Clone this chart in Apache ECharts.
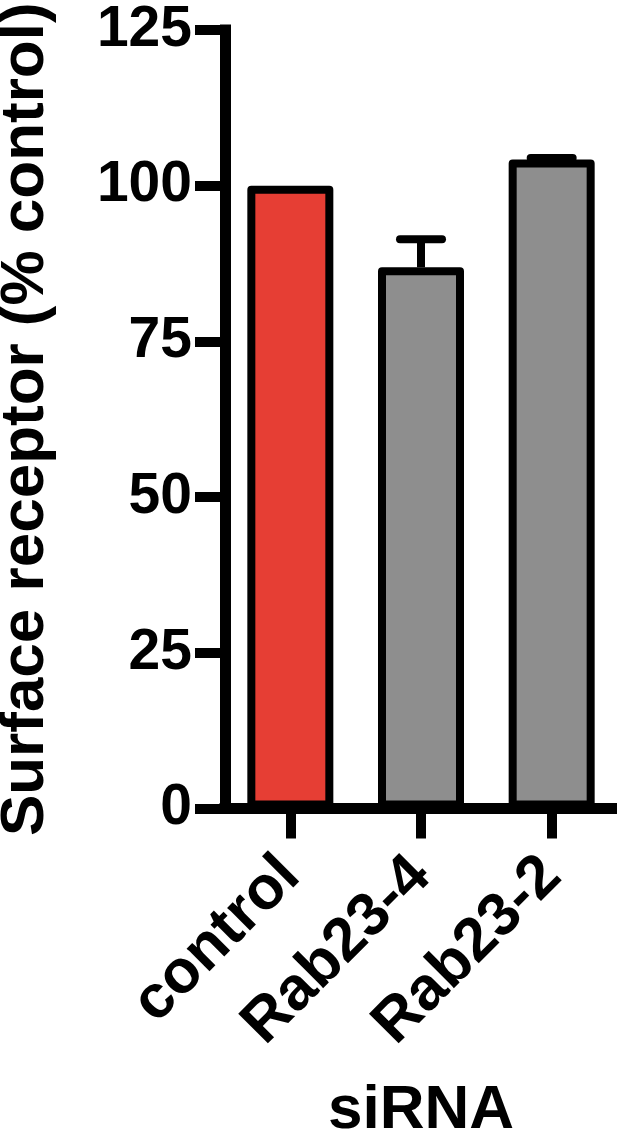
<!DOCTYPE html>
<html>
<head>
<meta charset="utf-8">
<script src="https://cdn.jsdelivr.net/npm/echarts@6/dist/echarts.min.js"></script>
<style>
html,body{margin:0;padding:0;background:#fff;}
#chart{width:617px;height:1134px;}
</style>
</head>
<body>
<div id="chart"></div>
<script>
const categories = ['control', 'Rab23-4', 'Rab23-2'];
const means = [100, 86.9, 104.2];
const errors = [0, 4.5, 0.25];
const barColors = ['#E63E34', '#8E8E8E', '#8E8E8E'];
const yTicks = [0, 25, 50, 75, 100, 125];

const FONT = '"Liberation Sans", Arial, Helvetica, sans-serif';
const chart = echarts.init(document.getElementById('chart'), null, {renderer: 'canvas'});

const errData = categories.map((c, i) => [i, means[i], means[i] + errors[i]]);

chart.setOption({
  animation: false,
  backgroundColor: '#fff',
  grid: {left: 225, right: 0, top: 30, bottom: 325.5, containLabel: false, outerBoundsMode: 'none'},
  xAxis: {
    type: 'category',
    data: categories,
    name: 'siRNA',
    nameLocation: 'middle',
    nameGap: 271,
    nameTextStyle: {fontFamily: FONT, fontWeight: 'bold', fontSize: 62, color: '#000'},
    axisLine: {lineStyle: {color: '#000', width: 11, cap: 'square'}},
    axisTick: {show: true, alignWithLabel: true, length: 30, lineStyle: {color: '#000', width: 10}},
    axisLabel: {interval: 0, rotate: 45, margin: 58, fontFamily: FONT, fontWeight: 'bold', fontSize: 61, color: '#000'}
  },
  yAxis: {
    type: 'value',
    min: 0, max: 125, interval: 25,
    name: 'Surface receptor (% control)',
    nameLocation: 'middle',
    nameGap: 168,
    nameTextStyle: {fontFamily: FONT, fontWeight: 'bold', fontSize: 62, color: '#000'},
    axisLine: {show: true, lineStyle: {color: '#000', width: 11, cap: 'square'}},
    axisTick: {show: true, length: 30, lineStyle: {color: '#000', width: 10}},
    axisLabel: {margin: 33, fontFamily: FONT, fontWeight: 'bold', fontSize: 57, color: '#000',
      formatter: v => yTicks.includes(v) ? String(v) : ''},
    splitLine: {show: false}
  },
  series: [
    {
      type: 'bar',
      barWidth: 86,
      z: 2,
      data: means.map((v, i) => ({value: v, itemStyle: {color: barColors[i]}})),
      itemStyle: {borderColor: '#000', borderWidth: 8, borderJoin: 'round'}
    },
    {
      type: 'custom',
      z: 3,
      data: errData,
      renderItem: function (params, api) {
        if (api.value(2) <= api.value(1)) return null;
        const base = api.coord([api.value(0), api.value(1)]);
        const top = api.coord([api.value(0), api.value(2)]);
        return {
          type: 'group',
          children: [
            {type: 'line', shape: {x1: base[0], y1: base[1], x2: top[0], y2: top[1]},
             style: {stroke: '#000', lineWidth: 8}},
            {type: 'line', shape: {x1: top[0] - 21, y1: top[1], x2: top[0] + 21, y2: top[1]},
             style: {stroke: '#000', lineWidth: 8, lineCap: 'round'}}
          ]
        };
      }
    }
  ]
});
</script>
</body>
</html>
